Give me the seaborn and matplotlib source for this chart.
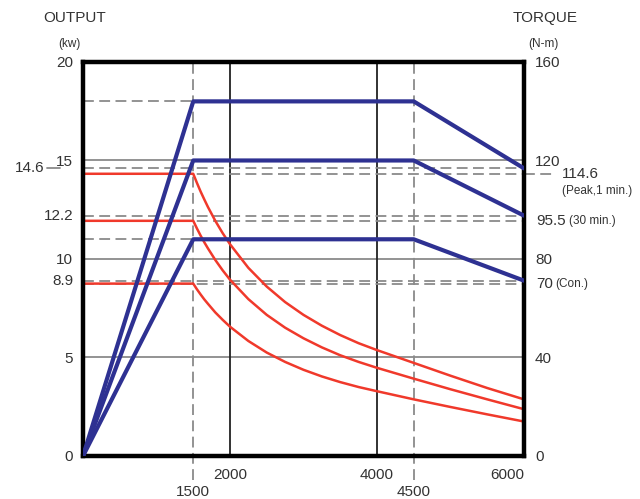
import seaborn as sns
import matplotlib.pyplot as plt
import matplotlib.transforms as mtransforms

# Spindle motor chart: output (kW, blue) and torque (N-m, red) vs speed (rpm)

rpm_output = [0, 1500, 4500, 6000]
output_peak = [0, 18, 18, 14.6]
output_30min = [0, 15, 15, 12.2]
output_con = [0, 11, 11, 8.9]

rpm_torque = [0, 1500, 1550, 1600, 1650, 1700, 1800, 1900, 2000, 2250, 2500,
              2750, 3000, 3250, 3500, 3750, 4000, 4500, 5000, 5500, 6000]
torque_peak = [114.6, 114.6, 110.9, 107.4, 104.2, 101.1, 95.5, 90.5, 86.0, 76.4, 68.8,
               62.5, 57.3, 52.9, 49.1, 45.8, 43.0, 37.8, 32.6, 27.6, 23.0]
torque_30min = [95.5, 95.5, 92.4, 89.5, 86.8, 84.3, 79.6, 75.4, 71.6, 63.7, 57.3,
                52.1, 47.8, 44.1, 40.9, 38.2, 35.8, 31.4, 27.1, 23.0, 19.0]
torque_con = [70, 70, 67.7, 65.6, 63.6, 61.8, 58.3, 55.3, 52.5, 46.7, 42.0,
              38.2, 35.0, 32.3, 30.0, 28.0, 26.3, 23.0, 19.9, 16.9, 14.0]

output_ticks = [0, 5, 10, 15, 20]
torque_ticks = [0, 40, 80, 120, 160]
rpm_ticks = [2000, 4000, 6000]
rpm_minor = [1500, 4500]

output_marks = [14.6, 12.2, 8.9]
torque_marks = [114.6, 95.5, 70]
torque_notes = ["(Peak,1 min.)", "(30 min.)", "(Con.)"]

sns.set_style("white")
plt.rcParams['font.family'] = ['Liberation Sans', 'DejaVu Sans']
txt = '#333333'
blue = '#2E3192'
red = '#F0392B'
grey = '#8a8a8a'
dash = (6, 3)
fs = 11

fig = plt.figure(figsize=(6.4, 4.99), dpi=100)
ax = fig.add_axes([0.1297, 0.0862, 0.689, 0.7896])
ax2 = ax.twinx()
ax3 = ax.twinx()

ax.set_xlim(0, 6000)
ax.set_ylim(0, 20)
ax2.set_ylim(0, 160)
ax3.set_ylim(0, 20)

# solid grid
for y in [5, 10, 15]:
    ax.axhline(y, color=grey, lw=1.3, zorder=1)
for x in [2000, 4000]:
    ax.axvline(x, color='#222222', lw=1.3, zorder=1)

# dashed guides
for x in rpm_minor:
    ax.plot([x, x], [-1.2, 20], color=grey, lw=1.3, dashes=dash, clip_on=False, zorder=1)
ax.plot([0, 1500], [18, 18], color=grey, lw=1.3, dashes=dash, zorder=1)
ax.plot([0, 1500], [11, 11], color=grey, lw=1.3, dashes=dash, zorder=1)
for y in output_marks:
    ax.plot([0, 6000], [y, y], color=grey, lw=1.3, dashes=dash, zorder=1)
for t in torque_marks:
    ax2.plot([0, 6000], [t, t], color=grey, lw=1.3, dashes=dash, zorder=1)
# dashed lead out to the 114.6 label
ax2.plot([6000, 6410], [114.6, 114.6], color=grey, lw=1.3, dashes=dash, clip_on=False)
ax.plot([-490, -310], [14.6, 14.6], color=grey, lw=1.3, clip_on=False)

# torque curves
for tq in [torque_peak, torque_30min, torque_con]:
    sns.lineplot(x=rpm_torque, y=tq, ax=ax2, color=red, lw=1.8)

# output curves
for out in [output_peak, output_30min, output_con]:
    sns.lineplot(x=rpm_output, y=out, ax=ax3, color=blue, lw=3)

# axes styling
for a in [ax, ax2, ax3]:
    a.set_xlim(0, 6000)
    for s in a.spines.values():
        s.set_visible(False)
for s in ax2.spines.values():
    s.set_visible(True)
    s.set_color('black')
    s.set_linewidth(3.2)
    s.set_zorder(5)

ax3.set_yticks([])
ax.set_yticks(output_ticks)
ax.set_yticklabels([str(v) for v in output_ticks])
ax.tick_params(axis='y', length=0, pad=7, labelsize=fs, labelcolor=txt)
ax2.set_yticks(torque_ticks)
ax2.set_yticklabels([str(v) for v in torque_ticks])
ax2.tick_params(axis='y', length=0, pad=8, labelsize=fs, labelcolor=txt)

ax.set_xticks(rpm_ticks)
ax.set_xticklabels([str(v) for v in rpm_ticks])
ax.set_xticks(rpm_minor, minor=True)
ax.set_xticklabels([str(v) for v in rpm_minor], minor=True)
ax.tick_params(axis='x', which='major', length=0, pad=9, labelsize=fs, labelcolor=txt)
ax.tick_params(axis='x', which='minor', length=0, pad=21, labelsize=fs, labelcolor=txt)
ax.get_xticklabels()[-1].set_ha('right')
ax.get_xticklabels()[-1].set_x(6040)

# extra value labels
left = mtransforms.blended_transform_factory(ax.transAxes, ax.transData)
right = mtransforms.blended_transform_factory(ax2.transAxes, ax2.transData)
ax.text(-0.087, 14.6, "14.6", transform=left, ha='right', va='center', fontsize=fs, color=txt)
ax.text(-0.022, 12.2, "12.2", transform=left, ha='right', va='center', fontsize=fs, color=txt)
ax.text(-0.022, 8.9, "8.9", transform=left, ha='right', va='center', fontsize=fs, color=txt)

ax2.text(1.086, 114.6, "114.6", transform=right, ha='left', va='center', fontsize=fs, color=txt)
ax2.text(1.086, 107.5, torque_notes[0], transform=right, ha='left', va='center', fontsize=8.5, color=txt)
ax2.text(1.027, 95.5, "95.5", transform=right, ha='left', va='center', fontsize=fs, color=txt)
ax2.text(1.103, 95.5, torque_notes[1], transform=right, ha='left', va='center', fontsize=8.5, color=txt)
ax2.text(1.027, 70, "70", transform=right, ha='left', va='center', fontsize=fs, color=txt)
ax2.text(1.072, 70, torque_notes[2], transform=right, ha='left', va='center', fontsize=8.5, color=txt)

# axis titles
fig.text(75 / 640, 1 - 18 / 499, "OUTPUT", ha='center', va='center', fontsize=11, color=txt)
fig.text(69 / 640, 1 - 44 / 499, "(kw)", ha='center', va='center', fontsize=8.5, color=txt)
fig.text(545 / 640, 1 - 18 / 499, "TORQUE", ha='center', va='center', fontsize=11, color=txt)
fig.text(543 / 640, 1 - 44 / 499, "(N-m)", ha='center', va='center', fontsize=8.5, color=txt)

plt.savefig('out.png', dpi=100)
